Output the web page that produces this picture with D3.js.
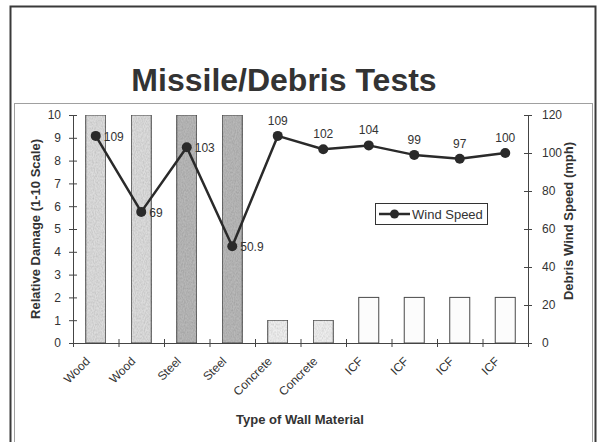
<!DOCTYPE html>
<html>
<head>
<meta charset="utf-8">
<script src="https://cdn.jsdelivr.net/npm/d3@7"></script>
<style>
  html, body { margin: 0; padding: 0; background: #ffffff; }
  svg { display: block; font-family: "Liberation Sans", Arial, sans-serif; }
</style>
</head>
<body>
<svg id="chart" width="600" height="442"></svg>
<script>
// Wall material tests: relative damage (bars) and debris wind speed (line)
const categories = ["Wood", "Wood", "Steel", "Steel", "Concrete", "Concrete", "ICF", "ICF", "ICF", "ICF"];
const damage = [10, 10, 10, 10, 1, 1, 2, 2, 2, 2];
const windSpeed = [109, 69, 103, 50.9, 109, 102, 104, 99, 97, 100];
const damageTicks = [0, 1, 2, 3, 4, 5, 6, 7, 8, 9, 10];
const speedTicks = [0, 20, 40, 60, 80, 100, 120];

// bar fills per material
const materialFill = { Wood: "#dcdcdc", Steel: "#b8b8b8", Concrete: "#eeeeee", ICF: "#fcfcfc" };

const svg = d3.select("#chart");

// grainy texture for the shaded bars
const defs = svg.append("defs");
const grain = defs.append("filter").attr("id", "grain")
  .attr("x", 0).attr("y", 0).attr("width", 1).attr("height", 1);
grain.append("feTurbulence").attr("type", "fractalNoise")
  .attr("baseFrequency", "0.9 0.5").attr("numOctaves", 2).attr("seed", 3).attr("result", "noise");
grain.append("feColorMatrix").attr("in", "noise").attr("type", "matrix")
  .attr("values", "0 0 0 0 0  0 0 0 0 0  0 0 0 0 0  0 0 0 0.4 -0.12").attr("result", "dark");
grain.append("feComposite").attr("in", "dark").attr("in2", "SourceGraphic").attr("operator", "in").attr("result", "darkIn");
grain.append("feMerge").call(m => {
  m.append("feMergeNode").attr("in", "SourceGraphic");
  m.append("feMergeNode").attr("in", "darkIn");
});

// frames
svg.append("rect").attr("x", 10.5).attr("y", 6.5).attr("width", 585).attr("height", 460)
  .attr("fill", "none").attr("stroke", "#3a3a3a").attr("stroke-width", 2);
svg.append("rect").attr("x", 14.5).attr("y", 103.5).attr("width", 578).attr("height", 360)
  .attr("fill", "none").attr("stroke", "#a0a0a0").attr("stroke-width", 1);

// title
svg.append("text").attr("x", 284).attr("y", 91)
  .attr("text-anchor", "middle").attr("font-size", 32).attr("font-weight", "bold")
  .attr("fill", "#333").text("Missile/Debris Tests");

// scales
const plotLeft = 73, plotRight = 528, plotTop = 115, plotBottom = 343;
const xEdge = d3.scaleLinear().domain([0, categories.length]).range([plotLeft, plotRight]);
const step = xEdge(1) - xEdge(0);
const xCenter = i => xEdge(i + 0.5);
const yDamage = d3.scaleLinear().domain([0, 10]).range([plotBottom, plotTop]);
const ySpeed = d3.scaleLinear().domain([0, 120]).range([plotBottom, plotTop]);

const axisColor = "#444";

// bars
const barW = step * 0.44;
svg.append("g").selectAll("rect").data(damage).join("rect")
  .attr("x", (d, i) => xCenter(i) - barW / 2)
  .attr("y", d => yDamage(d))
  .attr("width", barW)
  .attr("height", d => yDamage(0) - yDamage(d))
  .attr("fill", (d, i) => materialFill[categories[i]])
  .attr("filter", (d, i) => categories[i] === "ICF" ? null : "url(#grain)")
  .attr("stroke", "#4a4a4a").attr("stroke-width", 1);

// left axis
const gLeft = svg.append("g").attr("transform", `translate(${plotLeft},0)`)
  .call(d3.axisLeft(yDamage).tickValues(damageTicks).tickSizeOuter(0).tickSizeInner(4).tickPadding(8));
gLeft.selectAll(".tick line").attr("x1", 4).attr("x2", -4);
gLeft.selectAll("line, path").attr("stroke", axisColor);
gLeft.selectAll("text").attr("font-size", 12).attr("fill", "#333").attr("font-family", "Liberation Sans, Arial, sans-serif");

// right axis
const gRight = svg.append("g").attr("transform", `translate(${plotRight},0)`)
  .call(d3.axisRight(ySpeed).tickValues(speedTicks).tickSizeOuter(0).tickSizeInner(4).tickPadding(10));
gRight.selectAll(".tick line").attr("x1", -4).attr("x2", 4);
gRight.selectAll("line, path").attr("stroke", axisColor);
gRight.selectAll("text").attr("font-size", 12).attr("fill", "#333").attr("font-family", "Liberation Sans, Arial, sans-serif");

// bottom axis: ticks on category boundaries, labels at category centres
const gBottom = svg.append("g").attr("transform", `translate(0,${plotBottom})`)
  .call(d3.axisBottom(xEdge).tickValues(d3.range(0, categories.length + 1)).tickSizeOuter(0).tickSizeInner(4).tickFormat(""));
gBottom.selectAll(".tick line").attr("y1", -4).attr("y2", 4);
gBottom.selectAll("line, path").attr("stroke", axisColor);

svg.append("g").selectAll("text").data(categories).join("text")
  .attr("transform", (d, i) => `translate(${xCenter(i) - 5},${plotBottom + 19}) rotate(-45)`)
  .attr("text-anchor", "end").attr("font-size", 12).attr("fill", "#333")
  .text(d => d);

// axis titles
svg.append("text").attr("transform", `translate(40,${(plotTop + plotBottom) / 2}) rotate(-90)`)
  .attr("text-anchor", "middle").attr("font-size", 13).attr("font-weight", "bold").attr("fill", "#333")
  .text("Relative Damage (1-10 Scale)");
svg.append("text").attr("transform", `translate(573,${(plotTop + plotBottom) / 2 - 8}) rotate(-90)`)
  .attr("text-anchor", "middle").attr("font-size", 13).attr("font-weight", "bold").attr("fill", "#333")
  .text("Debris Wind Speed (mph)");
svg.append("text").attr("x", 300).attr("y", 424)
  .attr("text-anchor", "middle").attr("font-size", 13).attr("font-weight", "bold").attr("fill", "#333")
  .text("Type of Wall Material");

// wind speed line
const line = d3.line().x((d, i) => xCenter(i)).y(d => ySpeed(d));
svg.append("path").datum(windSpeed).attr("d", line)
  .attr("fill", "none").attr("stroke", "#2a2a2a").attr("stroke-width", 2.5).attr("stroke-linejoin", "round");
svg.append("g").selectAll("circle").data(windSpeed).join("circle")
  .attr("cx", (d, i) => xCenter(i)).attr("cy", d => ySpeed(d)).attr("r", 5)
  .attr("fill", "#2a2a2a");

// value labels: beside the point over the tall bars, above it elsewhere
svg.append("g").selectAll("text").data(windSpeed).join("text")
  .attr("x", (d, i) => damage[i] >= 10 ? xCenter(i) + 8 : xCenter(i))
  .attr("y", (d, i) => damage[i] >= 10 ? ySpeed(d) + 5 : ySpeed(d) - 11)
  .attr("text-anchor", (d, i) => damage[i] >= 10 ? "start" : "middle")
  .attr("font-size", 12).attr("fill", "#333")
  .text(d => d3.format("~g")(d));

// legend
const lg = svg.append("g");
lg.append("rect").attr("x", 375.5).attr("y", 203.5).attr("width", 112).attr("height", 21)
  .attr("fill", "#fff").attr("stroke", "#333").attr("stroke-width", 1);
lg.append("line").attr("x1", 379).attr("x2", 410).attr("y1", 214).attr("y2", 214)
  .attr("stroke", "#2a2a2a").attr("stroke-width", 2.5);
lg.append("circle").attr("cx", 394.5).attr("cy", 214).attr("r", 4.5).attr("fill", "#2a2a2a");
lg.append("text").attr("x", 412).attr("y", 218.5).attr("font-size", 13).attr("fill", "#333").text("Wind Speed");
</script>
</body>
</html>
